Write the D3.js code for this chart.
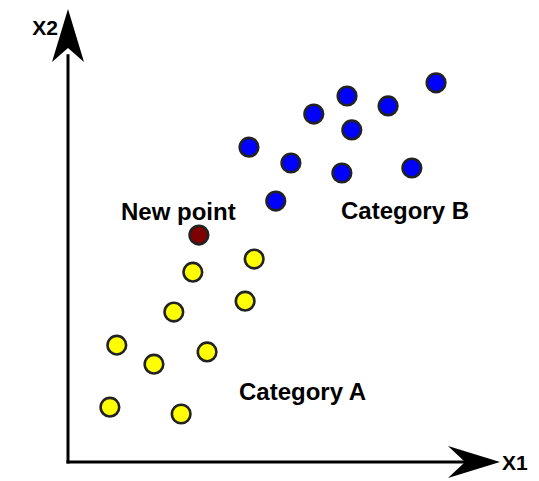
<!DOCTYPE html>
<html>
<head>
<meta charset="utf-8">
<script src="https://cdn.jsdelivr.net/npm/d3@7"></script>
<style>
  html, body { margin: 0; padding: 0; background: #fff; }
  svg { display: block; }
  text { font-family: "Liberation Sans", Arial, Helvetica, sans-serif; font-weight: bold; fill: #000; }
</style>
</head>
<body>
<svg id="chart" width="539" height="481"></svg>
<script>
// ---- data (values in axis units, 0..100) ----
const categoryA_x = [28.9, 43.1, 41.0, 24.5, 11.3, 19.9, 32.2, 9.7, 26.2];
const categoryA_y = [41.9, 44.8, 35.5, 33.1, 25.8, 21.6, 24.3, 12.1, 10.6];
const categoryB_x = [41.9, 51.6, 56.9, 64.6, 65.7, 74.1, 85.2, 63.4, 79.6, 48.1];
const categoryB_y = [69.5, 66.0, 76.8, 80.8, 73.3, 78.6, 83.7, 63.8, 64.9, 57.6];
const newPoint_x = [30.3];
const newPoint_y = [50.1];
const axisLabels = ["X1", "X2"];
const groupLabels = ["Category A", "Category B", "New point"];

const svg = d3.select("#chart");
const x = d3.scaleLinear().domain([0, 100]).range([68, 500]);
const y = d3.scaleLinear().domain([0, 100]).range([462, 9]);

// axes
const ax = svg.append("g");
ax.append("line").attr("x1", x(0)).attr("y1", y(0) + 1.5).attr("x2", x(0)).attr("y2", y(90))
  .attr("stroke", "#000").attr("stroke-width", 3);
ax.append("line").attr("x1", x(0) - 1.5).attr("y1", y(0)).attr("x2", x(92)).attr("y2", y(0))
  .attr("stroke", "#000").attr("stroke-width", 3);

// arrowheads
const tipY = y(100), tipX = x(100);
ax.append("path")
  .attr("d", `M${x(0)},${tipY} L${x(0) + 16},${tipY + 53} L${x(0)},${tipY + 39} L${x(0) - 16},${tipY + 53} Z`)
  .attr("fill", "#000");
ax.append("path")
  .attr("d", `M${tipX},${y(0)} L${tipX - 52},${y(0) - 16} L${tipX - 35},${y(0)} L${tipX - 52},${y(0) + 16} Z`)
  .attr("fill", "#000");

ax.append("text").attr("x", tipX + 2).attr("y", y(0) + 8).attr("font-size", 21).text(axisLabels[0]);
ax.append("text").attr("x", x(0) - 10).attr("y", 35).attr("text-anchor", "end").attr("font-size", 21).text(axisLabels[1]);

// points
function drawPoints(xs, ys, fill) {
  svg.append("g").selectAll("circle")
    .data(xs.map((v, i) => [v, ys[i]]))
    .join("circle")
    .attr("cx", d => x(d[0]))
    .attr("cy", d => y(d[1]))
    .attr("r", 9.3)
    .attr("fill", fill)
    .attr("stroke", "#222")
    .attr("stroke-width", 2.6);
}
drawPoints(categoryA_x, categoryA_y, "#ffff00");
drawPoints(categoryB_x, categoryB_y, "#0000ff");
drawPoints(newPoint_x, newPoint_y, "#7f0000");

// group labels
const lab = svg.append("g").attr("font-size", 24);
lab.append("text").attr("x", 239).attr("y", 400).text(groupLabels[0]);
lab.append("text").attr("x", 341).attr("y", 219).text(groupLabels[1]);
lab.append("text").attr("x", 121).attr("y", 220).text(groupLabels[2]);
</script>
</body>
</html>
